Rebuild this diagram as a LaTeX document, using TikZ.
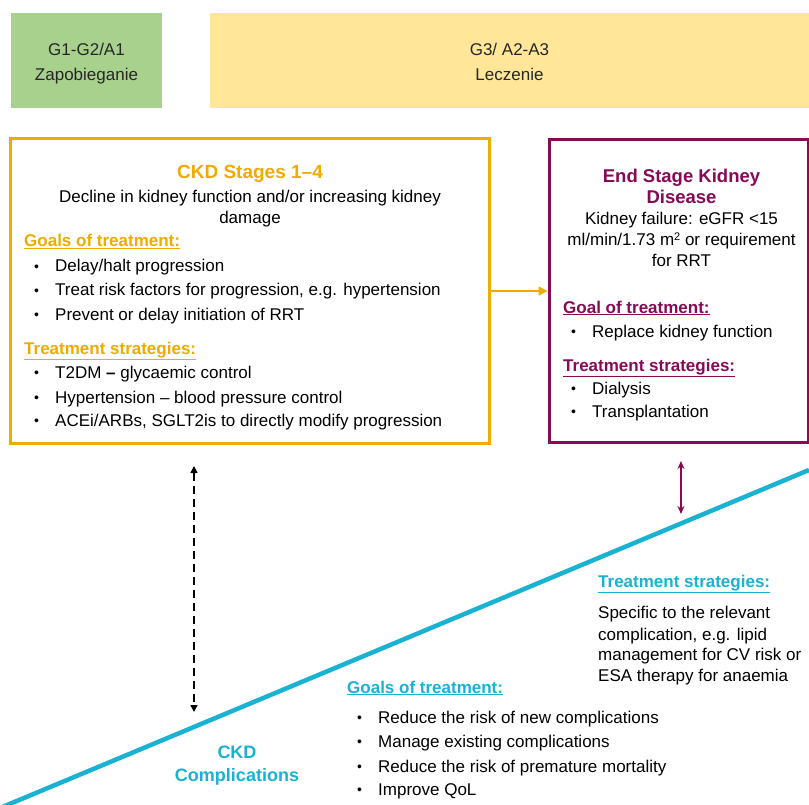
\documentclass[tikz,border=0pt]{standalone}
\usepackage{fontspec}
\setmainfont{Liberation Sans}
\usetikzlibrary{arrows.meta}
\definecolor{ckdorange}{HTML}{F0AB00}
\definecolor{esrdmag}{HTML}{870A55}
\definecolor{compcyan}{HTML}{1AB2D3}
\definecolor{prevgreen}{HTML}{A9D18E}
\definecolor{treatyellow}{HTML}{FFE699}
\newcommand\bitem[1][21pt]{\makebox[#1][l]{\fontsize{14}{14}\selectfont\raisebox{0.5pt}{•}}}
\begin{document}
\begin{tikzpicture}[x=1pt,y=-1pt,
  bodyl/.style={inner sep=0pt, anchor=base west, font=\fontsize{17}{20}\selectfont},
  bodyc/.style={inner sep=0pt, anchor=base, font=\fontsize{17}{20}\selectfont},
  toptext/.style={inner sep=0pt, anchor=base, font=\fontsize{17}{20}\selectfont, text=black!85},
  headl/.style={inner sep=0pt, anchor=base west, font=\bfseries\fontsize{17}{20}\selectfont},
  titlec/.style={inner sep=0pt, anchor=base, font=\bfseries\fontsize{19}{22}\selectfont},
  stagebox/.style={draw, line width=3pt, inner sep=0pt}
]
\useasboundingbox (0,0) rectangle (809,805);

% top bands
\node[fill=prevgreen, inner sep=0pt, minimum width=151pt, minimum height=95pt] (prev) at (86.5,60.5) {};
\node[fill=treatyellow, inner sep=0pt, minimum width=599pt, minimum height=95pt] (treat) at (509.5,60.5) {};
\node[toptext] (prevA) at (86.5,56) {G1-G2/A1};
\node[toptext] (prevB) at (86.5,81) {Zapobieganie};
\node[toptext] (treatA) at (509.5,56) {G3/ A2-A3};
\node[toptext] (treatB) at (509.5,81) {Leczenie};

% cyan line
\coordinate (cl0) at (0,808);
\coordinate (cl1) at (809,470);
\draw[compcyan, line width=4.5pt] (cl0) -- (cl1);

% stage boxes
\node[stagebox, draw=ckdorange, minimum width=479pt, minimum height=304pt] (ckd) at (249.5,291) {};
\node[stagebox, draw=esrdmag, minimum width=259pt, minimum height=302pt] (esrd) at (678.5,291) {};
\draw[ckdorange, line width=1.6pt, -{Triangle[length=9pt,width=9pt]}] (ckd.east) -- (esrd.west);

% CKD stages text
\node[titlec, text=ckdorange] (ckdT) at (250,179) {CKD Stages 1–4};
\node[bodyc] (ckdD1) at (250,203) {Decline in kidney function and/or increasing kidney};
\node[bodyc] (ckdD2) at (250,224) {damage};
\node[headl, text=ckdorange] (ckdG) at (24,247) {\underline{Goals of treatment:}};
\node[bodyl] (ckdG1) at (34,272) {\bitem Delay/halt progression};
\node[bodyl] (ckdG2) at (34,296) {\bitem Treat risk factors for progression, e.g. hypertension};
\node[bodyl] (ckdG3) at (34,320) {\bitem Prevent or delay initiation of RRT};
\node[headl, text=ckdorange] (ckdS) at (24,354) {\underline{Treatment strategies:}};
\node[bodyl] (ckdS1) at (34,378) {\bitem T2DM \textbf{–} glycaemic control};
\node[bodyl] (ckdS2) at (34,403) {\bitem Hypertension – blood pressure control};
\node[bodyl] (ckdS3) at (34,426) {\bitem ACEi/ARBs, SGLT2is to directly modify progression};

% ESKD text
\node[titlec, text=esrdmag, font=\bfseries\fontsize{18.5}{22}\selectfont] (esT1) at (681.5,183) {End Stage Kidney};
\node[titlec, text=esrdmag, font=\bfseries\fontsize{18.5}{22}\selectfont] (esT2) at (681.5,204) {Disease};
\node[bodyc] (esD1) at (681.5,225) {Kidney failure: eGFR <15};
\node[bodyc] (esD2) at (681.5,246) {ml/min/1.73 m{\fontsize{11}{11}\selectfont\raisebox{5pt}{2}} or requirement};
\node[bodyc] (esD3) at (681.5,267) {for RRT};
\node[headl, text=esrdmag] (esG) at (563,313) {\underline{Goal of treatment:}};
\node[bodyl] (esG1) at (571,337) {\bitem Replace kidney function};
\node[headl, text=esrdmag] (esS) at (563,371) {\underline{Treatment strategies:}};
\node[bodyl] (esS1) at (571,394) {\bitem Dialysis};
\node[bodyl] (esS2) at (571,417) {\bitem Transplantation};

% vertical arrows
\coordinate (dtop) at (194,466);
\coordinate (dbot) at (194,712);
\draw[black, line width=1.5pt, dash pattern=on 8pt off 5pt, {Triangle[length=7pt,width=7pt]}-{Triangle[length=7pt,width=7pt]}] (dtop) -- (dbot);
\coordinate (mtop) at (681,461);
\coordinate (mbot) at (681,514);
\draw[esrdmag, line width=1.8pt, {Stealth[length=8pt,width=7pt]}-{Stealth[length=8pt,width=7pt]}] (mtop) -- (mbot);

% complications text
\node[titlec, text=compcyan, font=\bfseries\fontsize{18}{22}\selectfont] (ccT1) at (237,758) {CKD};
\node[titlec, text=compcyan, font=\bfseries\fontsize{18}{22}\selectfont] (ccT2) at (237,781) {Complications};
\node[headl, text=compcyan] (ccS) at (598,587) {\underline{Treatment strategies:}};
\node[bodyl] (ccS1) at (598,618) {Specific to the relevant};
\node[bodyl] (ccS2) at (598,640) {complication, e.g. lipid};
\node[bodyl] (ccS3) at (598,660) {management for CV risk or};
\node[bodyl] (ccS4) at (598,681) {ESA therapy for anaemia};
\node[headl, text=compcyan] (ccG) at (347,693) {\underline{Goals of treatment:}};
\node[bodyl] (ccG1) at (357,723) {\bitem[21pt]Reduce the risk of new complications};
\node[bodyl] (ccG2) at (357,747) {\bitem[21pt]Manage existing complications};
\node[bodyl] (ccG3) at (357,772) {\bitem[21pt]Reduce the risk of premature mortality};
\node[bodyl] (ccG4) at (357,795) {\bitem[21pt]Improve QoL};
\end{tikzpicture}
\end{document}
